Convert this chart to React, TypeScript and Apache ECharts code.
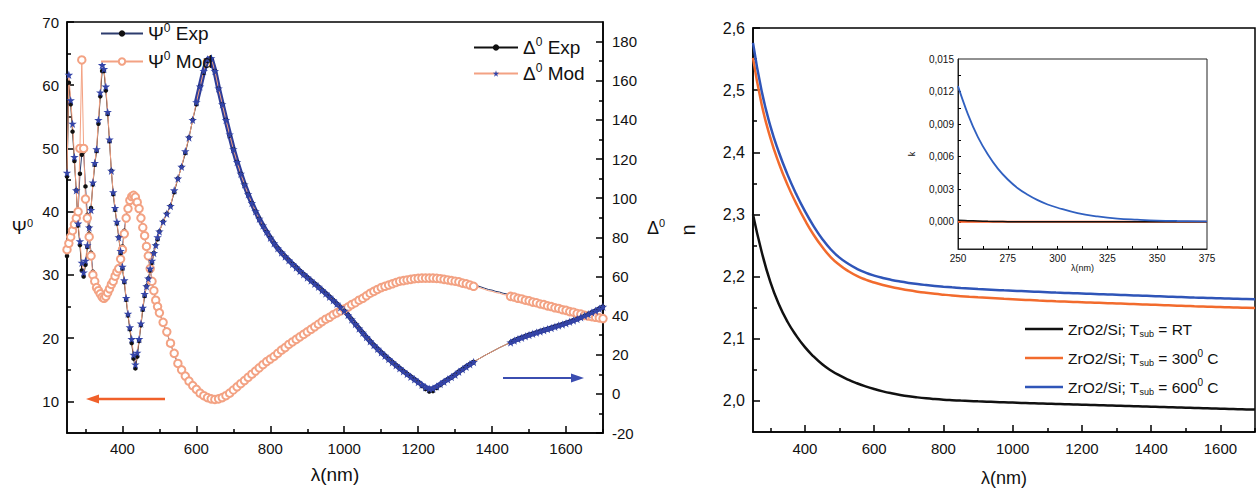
import React, { useEffect, useRef } from 'react';
import * as echarts from 'echarts';

const FONT = "'Liberation Sans', Arial, sans-serif";

// ---------- Left chart: ellipsometric angles ----------
const WL_UV = [250, 255, 260, 265, 270, 275, 280, 285, 290, 295,
  300, 305, 310, 315, 320, 325, 330, 335, 340, 345,
  350, 355, 360, 365, 370, 375, 380, 385, 390, 395,
  400, 405, 410, 415, 420, 425, 430, 435, 440, 445,
  450, 455, 460, 465, 470, 475, 480, 485, 490, 495, 500];
const WL_VIS = [510, 520, 530, 540, 550, 560, 570, 580, 590, 600,
  610, 620, 630, 640, 650, 660, 670, 680, 690, 700,
  710, 720, 730, 740, 750, 760, 770, 780, 790, 800,
  810, 820, 830, 840, 850, 860, 870, 880, 890, 900,
  910, 920, 930, 940, 950, 960, 970, 980, 990, 1000,
  1010, 1020, 1030, 1040, 1050, 1060, 1070, 1080, 1090, 1100,
  1110, 1120, 1130, 1140, 1150, 1160, 1170, 1180, 1190, 1200,
  1210, 1220, 1230, 1240, 1250, 1260, 1270, 1280, 1290, 1300,
  1310, 1320, 1330, 1340, 1350, 1360, 1370, 1380, 1390, 1400,
  1410, 1420, 1430, 1440, 1450, 1460, 1470, 1480, 1490, 1500,
  1510, 1520, 1530, 1540, 1550, 1560, 1570, 1580, 1590, 1600,
  1610, 1620, 1630, 1640, 1650, 1660, 1670, 1680, 1690, 1700];

const PSI_EXP_UV = [33, 34.5, 35.5, 36, 37, 38, 40, 46, 49, 49.5,
  44, 39.5, 36.5, 33.5, 30.5, 29.2, 28.2, 27.6, 27.2, 26.8,
  26.6, 26.9, 27.5, 28.2, 28.8, 29.4, 30, 30.6, 31.3, 32.8,
  34.5, 37, 39.3, 40.6, 41.4, 41.8, 41.9, 41.6, 41, 40.2,
  38.8, 37.4, 36, 34.4, 32.8, 30.9, 29, 27.4, 26, 25, 24];
const PSI_MOD_UV = [34, 35, 36, 37, 38, 39, 40, 50, 64, 50,
  42, 39, 36, 33, 30, 29, 28, 27.5, 27, 26.5,
  26.3, 26.6, 27.2, 27.8, 28.5, 29, 29.8, 30.5, 31, 32.5,
  34, 36.5, 39, 40.5, 41.8, 42.4, 42.6, 42.3, 41.5, 40.5,
  39, 37.5, 36.2, 34.5, 33, 31, 29, 27.5, 26, 25, 24];
const DELTA_EXP_UV = [111, 159, 148, 134, 119, 104, 86, 76, 63, 60,
  66, 75, 85, 95, 107, 117, 124, 138, 152, 165,
  165, 155, 143, 129, 114, 102, 94, 87, 80, 72,
  64, 57, 48, 40, 33, 26, 18, 13, 19, 27,
  35, 43, 50, 55, 59, 63, 67, 72, 76, 79, 83];
const DELTA_MOD_UV = [113, 163, 150, 138, 121, 104, 87, 78, 67, 62,
  68, 76, 85, 94, 108, 118, 125, 140, 154, 168,
  166, 157, 144, 130, 114, 103, 95, 88, 80, 73,
  65, 58, 49, 41, 34, 28, 20, 15, 21, 28,
  36, 44, 51, 55, 59, 64, 68, 72, 76, 80, 83];

const PSI_EXP_VIS = [22.4, 20.9, 19.1, 17.5, 15.9, 14.9, 13.9, 13.1, 12.4, 11.8,
  11.2, 10.8, 10.5, 10.3, 10.2, 10.3, 10.5, 10.8, 11.2, 11.7,
  12.2, 12.7, 13.2, 13.7, 14.2, 14.7, 15.2, 15.7, 16.2, 16.6,
  17.1, 17.6, 18.1, 18.5, 19, 19.4, 19.8, 20.2, 20.6, 21,
  21.4, 21.8, 22.2, 22.6, 23, 23.3, 23.7, 24, 24.3, 24.7,
  25, 25.4, 25.8, 26.2, 26.5, 26.9, 27.3, 27.6, 27.9, 28.2,
  28.4, 28.6, 28.8, 29, 29.2, 29.3, 29.4, 29.5, 29.6, 29.65,
  29.7, 29.7, 29.7, 29.7, 29.65, 29.6, 29.5, 29.4, 29.3, 29.2,
  29.1, 28.9, 28.8, 28.6, 28.4, 28.3, 28.1, 27.9, 27.7, 27.6,
  27.4, 27.3, 27.1, 27, 26.8, 26.6, 26.4, 26.3, 26.1, 26,
  25.8, 25.7, 25.5, 25.4, 25.2, 25.1, 24.9, 24.8, 24.6, 24.5,
  24.3, 24.2, 24, 23.9, 23.7, 23.6, 23.5, 23.4, 23.3, 23.2];
const PSI_MOD_VIS = [22.5, 21, 19.2, 17.6, 16, 15, 14, 13.2, 12.5, 11.9,
  11.3, 10.9, 10.6, 10.4, 10.3, 10.4, 10.6, 10.9, 11.3, 11.8,
  12.3, 12.8, 13.3, 13.8, 14.3, 14.8, 15.3, 15.8, 16.3, 16.7,
  17.1, 17.6, 18.1, 18.5, 19, 19.4, 19.8, 20.2, 20.6, 21,
  21.4, 21.8, 22.2, 22.6, 23, 23.3, 23.7, 24, 24.3, 24.6,
  24.9, 25.3, 25.6, 26, 26.3, 26.7, 27.1, 27.4, 27.7, 28,
  28.2, 28.4, 28.6, 28.8, 29, 29.1, 29.2, 29.3, 29.4, 29.45,
  29.5, 29.5, 29.5, 29.5, 29.45, 29.4, 29.3, 29.2, 29.1, 29,
  28.9, 28.7, 28.6, 28.4, 28.2, 28.1, 27.9, 27.7, 27.5, 27.4,
  27.2, 27.1, 26.9, 26.8, 26.6, 26.5, 26.3, 26.2, 26, 25.9,
  25.7, 25.6, 25.4, 25.3, 25.1, 25, 24.8, 24.7, 24.5, 24.4,
  24.2, 24.1, 23.9, 23.8, 23.6, 23.5, 23.4, 23.3, 23.2, 23.1];
const DELTA_EXP_VIS = [88, 92, 96, 103, 110, 116, 123, 131, 140, 148,
  157, 164, 170, 171, 165, 156, 148, 140, 132, 125,
  118.5, 112.5, 107, 102, 97.5, 93.3, 89.5, 86, 82.8, 79.8,
  77, 74.4, 72.2, 70.2, 68.3, 66.4, 64.6, 62.8, 61.1, 59.5,
  57.9, 56.3, 54.7, 53, 51.3, 49.6, 47.8, 46, 44.2, 42.5,
  40.3, 38, 35.7, 33.4, 31.2, 29, 26.9, 24.9, 23, 21.2,
  19.5, 17.8, 16.2, 14.6, 13.1, 11.6, 10.2, 8.8, 7.4, 6,
  4, 2.4, 1.2, 1.4, 3, 4.5, 6, 7.3, 8.5, 9.7,
  11.3, 12.6, 13.9, 15.1, 16.3, 17.4, 18.5, 19.6, 20.6, 21.6,
  22.6, 23.6, 24.5, 25.4, 26.3, 27.2, 28, 28.7, 29.4, 30.1,
  30.7, 31.3, 31.9, 32.5, 33.1, 33.7, 34.3, 34.9, 35.5, 36.1,
  36.8, 37.5, 38.3, 39.1, 39.9, 40.7, 41.6, 42.5, 43.5, 44.5];
const DELTA_MOD_VIS = [88, 92, 96, 104, 110, 116, 124, 131, 140, 149,
  157, 165, 171, 171.5, 165, 156, 148, 140, 132.5, 125,
  118.5, 112.5, 107, 102, 97.5, 93.3, 89.5, 86, 82.8, 79.8,
  77, 74.4, 72.2, 70.2, 68.3, 66.4, 64.6, 62.8, 61.1, 59.5,
  57.9, 56.3, 54.7, 53, 51.3, 49.6, 47.8, 46, 44.2, 42.5,
  40.3, 38, 35.7, 33.4, 31.2, 29, 26.9, 24.9, 23, 21.2,
  19.5, 17.8, 16.2, 14.6, 13.1, 11.6, 10.2, 8.8, 7.4, 6,
  4.6, 3.4, 2.6, 2.8, 3.8, 5, 6.2, 7.4, 8.6, 9.8,
  11.3, 12.6, 13.9, 15.1, 16.3, 17.4, 18.5, 19.6, 20.6, 21.6,
  22.6, 23.6, 24.5, 25.4, 26.3, 27.2, 28, 28.7, 29.4, 30.1,
  30.7, 31.3, 31.9, 32.5, 33.1, 33.7, 34.3, 34.9, 35.5, 36.1,
  36.8, 37.5, 38.3, 39.1, 39.9, 40.7, 41.6, 42.5, 43.5, 44.5];

// tick values
const X_MAJOR = [400, 600, 800, 1000, 1200, 1400, 1600];
const X_MINOR = [300, 500, 700, 900, 1100, 1300, 1500, 1700];
const PSI_MAJOR = [10, 20, 30, 40, 50, 60, 70];
const PSI_MINOR = [15, 25, 35, 45, 55, 65];
const DELTA_MAJOR = [-20, 0, 20, 40, 60, 80, 100, 120, 140, 160, 180];
const DELTA_MINOR = [-10, 10, 30, 50, 70, 90, 110, 130, 150, 170];

// ---------- Right chart: refractive index n ----------
const WL_N = [250, 275, 300, 325, 350, 375, 400, 425, 450, 475,
  500, 525, 550, 575, 600, 625, 650, 675, 700, 725,
  750, 775, 800, 825, 850, 875, 900, 925, 950, 975,
  1000, 1025, 1050, 1075, 1100, 1125, 1150, 1175, 1200, 1225,
  1250, 1275, 1300, 1325, 1350, 1375, 1400, 1425, 1450, 1475,
  1500, 1525, 1550, 1575, 1600, 1625, 1650, 1675, 1700];
const N_RT = [2.300, 2.240, 2.1915, 2.155, 2.127, 2.105, 2.0865, 2.0715, 2.059, 2.049,
  2.041, 2.0342, 2.0284, 2.0234, 2.0191, 2.0154, 2.0123, 2.0097, 2.0075, 2.0057,
  2.0042, 2.0030, 2.0020, 2.0012, 2.0005, 1.9999, 1.9993, 1.9988, 1.9983, 1.9978,
  1.9973, 1.9968, 1.9963, 1.9959, 1.9955, 1.9951, 1.9947, 1.9943, 1.9939, 1.9935,
  1.9931, 1.9927, 1.9923, 1.9919, 1.9915, 1.9911, 1.9907, 1.9903, 1.9899, 1.9895,
  1.9891, 1.9887, 1.9883, 1.9879, 1.9875, 1.9871, 1.9867, 1.9863, 1.9860];
const N_300 = [2.552, 2.4770, 2.4235, 2.3820, 2.3472, 2.3175, 2.2908, 2.2673, 2.2476, 2.2311,
  2.2186, 2.2089, 2.2011, 2.1952, 2.1906, 2.1866, 2.1832, 2.1804, 2.1779, 2.1758,
  2.1740, 2.1724, 2.1710, 2.1697, 2.1686, 2.1676, 2.1667, 2.1659, 2.1651, 2.1643,
  2.1636, 2.1629, 2.1622, 2.1615, 2.1609, 2.1603, 2.1598, 2.1593, 2.1588, 2.1583,
  2.1578, 2.1573, 2.1568, 2.1563, 2.1558, 2.1553, 2.1548, 2.1543, 2.1538, 2.1533,
  2.1528, 2.1523, 2.1519, 2.1515, 2.1511, 2.1507, 2.1503, 2.1499, 2.1495];
const N_600 = [2.576, 2.4985, 2.4425, 2.3997, 2.3637, 2.3327, 2.3053, 2.2813, 2.2606, 2.2436,
  2.2306, 2.2206, 2.2126, 2.2064, 2.2016, 2.1978, 2.1947, 2.1921, 2.1899, 2.1880,
  2.1864, 2.1850, 2.1838, 2.1827, 2.1817, 2.1808, 2.1800, 2.1793, 2.1786, 2.1779,
  2.1773, 2.1767, 2.1761, 2.1755, 2.1749, 2.1743, 2.1738, 2.1733, 2.1728, 2.1723,
  2.1718, 2.1713, 2.1708, 2.1703, 2.1698, 2.1693, 2.1688, 2.1683, 2.1678, 2.1673,
  2.1668, 2.1663, 2.1659, 2.1655, 2.1651, 2.1647, 2.1643, 2.1639, 2.1635];
const N_X_MAJOR = [400, 600, 800, 1000, 1200, 1400, 1600];
const N_X_MINOR = [300, 500, 700, 900, 1100, 1300, 1500, 1700];
const N_MAJOR = [2.0, 2.1, 2.2, 2.3, 2.4, 2.5, 2.6];
const N_MINOR = [2.05, 2.15, 2.25, 2.35, 2.45, 2.55];

// ---------- Inset: extinction coefficient k ----------
const WL_K = [250, 255, 260, 265, 270, 275, 280, 285, 290, 295, 300, 310, 320, 330, 340, 350, 360, 375];
const K_600 = [0.0125, 0.0099, 0.0078, 0.0062, 0.0049, 0.0039, 0.0031, 0.0025, 0.0020, 0.0016, 0.0013,
  0.0008, 0.0005, 0.0003, 0.0002, 0.00012, 0.00008, 0.00005];
const K_RT = [0.00015, 0.00011, 0.00008, 0.00005, 0.00003, 0.00002, 0.00001, 0, 0, 0, 0, 0, 0, 0, 0, 0, 0, 0];
const K_300 = [0, 0, 0, 0, 0, 0, 0, 0, 0, 0, 0, 0, 0, 0, 0, 0, 0, 0];
const K_X_LABELS = [250, 275, 300, 325, 350, 375];
const K_X_TICKS = [262.5, 275, 287.5, 300, 312.5, 325, 337.5, 350, 362.5];
const K_Y_LABELS = [0, 0.003, 0.006, 0.009, 0.012, 0.015];
const K_Y_TICKS = [-0.0015, 0, 0.0015, 0.003, 0.0045, 0.006, 0.0075, 0.009, 0.0105, 0.012, 0.0135];

const STAR = 'path://M50,0 L61,35 L98,35 L68,57 L79,91 L50,70 L21,91 L32,57 L2,35 L39,35 Z';
const SALMON = '#f3a283';
const NAVY = '#3444a8';

const WL = [...WL_UV, ...WL_VIS];
const inGap = (x: number) => x > 1350 && x < 1450;
const pts = (ys: number[]) =>
  WL.map((x, i) => (inGap(x) ? { value: [x, ys[i]], symbol: 'none' } : [x, ys[i]]));
const band = (ys: number[]) => WL.map((x, i) => (x >= 600 && !inGap(x) ? [x, ys[i]] : [x, '-']));
const zipN = (xs: number[], ys: number[]) => xs.map((x, i) => [x, ys[i]]);

const lineAxis = { show: true, onZero: false, lineStyle: { color: '#000', width: 1.5 } };
const noAxis = { show: false, onZero: false };
const tick = (vals: number[], len: number, w = 1.5) => ({
  show: true, inside: true, length: len, customValues: vals, lineStyle: { color: '#000', width: w },
});
const plain = (v: number) => String(v);
const lbl = (vals: number[], size: number, margin: number, fmt: (v: number) => string = plain) => ({
  show: true, customValues: vals, fontSize: size, margin, color: '#111', fontFamily: FONT, formatter: fmt,
});
const comma = (d: number) => (v: number) => v.toFixed(d).replace('.', ',');

const supRich = (size: number, lh: number, supPad = 10) => ({
  a: { fontSize: size, color: '#111', fontFamily: FONT, lineHeight: lh },
  s: { fontSize: Math.round(size * 0.62), color: '#111', fontFamily: FONT, padding: [0, 0, supPad, 0] },
  b: { fontSize: Math.round(size * 0.6), color: '#111', fontFamily: FONT, padding: [9, 0, 0, 0] },
});

const option: any = {
  animation: false,
  backgroundColor: '#fff',
  textStyle: { fontFamily: FONT },
  grid: [
    { left: 67, top: 22, width: 536, height: 411, show: true, borderColor: '#000', borderWidth: 1.5 },
    { left: 753, top: 28, width: 502, height: 407, show: true, borderColor: '#000', borderWidth: 1.5 },
    { left: 958, top: 59, width: 249, height: 190, show: true, borderColor: '#222', borderWidth: 1, backgroundColor: '#fff' },
  ],
  xAxis: [
    {
      type: 'value', gridIndex: 0, min: 250, max: 1700, position: 'bottom',
      axisLine: lineAxis, axisTick: tick(X_MAJOR, 7), axisLabel: lbl(X_MAJOR, 15, 8), splitLine: { show: false },
      name: 'λ(nm)', nameLocation: 'middle', nameGap: 32, nameTextStyle: { fontSize: 19, color: '#111', fontFamily: FONT },
    },
    {
      type: 'value', gridIndex: 0, min: 250, max: 1700, position: 'bottom',
      axisLine: noAxis, axisTick: tick(X_MINOR, 4), axisLabel: { show: false }, splitLine: { show: false },
    },
    {
      type: 'value', gridIndex: 1, min: 250, max: 1700, position: 'bottom',
      axisLine: lineAxis, axisTick: tick(N_X_MAJOR, 7), axisLabel: lbl(N_X_MAJOR, 15, 9), splitLine: { show: false },
      name: 'λ(nm)', nameLocation: 'middle', nameGap: 37, nameTextStyle: { fontSize: 18, color: '#111', fontFamily: FONT },
    },
    {
      type: 'value', gridIndex: 1, min: 250, max: 1700, position: 'bottom',
      axisLine: noAxis, axisTick: tick(N_X_MINOR, 4), axisLabel: { show: false }, splitLine: { show: false },
    },
    {
      type: 'value', gridIndex: 2, min: 250, max: 375, position: 'bottom',
      axisLine: { show: true, onZero: false, lineStyle: { color: '#222', width: 1 } },
      axisTick: tick(K_X_TICKS, 3, 1), axisLabel: lbl(K_X_LABELS, 10, 4), splitLine: { show: false },
      name: 'λ(nm)', nameLocation: 'middle', nameGap: 14, nameTextStyle: { fontSize: 9, color: '#111', fontFamily: FONT },
    },
  ],
  yAxis: [
    {
      type: 'value', gridIndex: 0, min: 5, max: 70, position: 'left',
      axisLine: lineAxis, axisTick: tick(PSI_MAJOR, 7), axisLabel: lbl(PSI_MAJOR, 15, 8), splitLine: { show: false },
      name: '{a|Ψ}{s|0}', nameLocation: 'middle', nameRotate: 0, nameGap: 34,
      nameTextStyle: { rich: supRich(18, 22) },
    },
    {
      type: 'value', gridIndex: 0, min: 5, max: 70, position: 'left',
      axisLine: noAxis, axisTick: tick(PSI_MINOR, 4), axisLabel: { show: false }, splitLine: { show: false },
    },
    {
      type: 'value', gridIndex: 0, min: -20, max: 190, position: 'right',
      axisLine: lineAxis, axisTick: tick(DELTA_MAJOR, 7), axisLabel: lbl(DELTA_MAJOR, 15, 9), splitLine: { show: false },
      name: '{a|Δ}{s|0}', nameLocation: 'middle', nameRotate: 0, nameGap: 44,
      nameTextStyle: { rich: supRich(18, 22) },
    },
    {
      type: 'value', gridIndex: 0, min: -20, max: 190, position: 'right',
      axisLine: noAxis, axisTick: tick(DELTA_MINOR, 4), axisLabel: { show: false }, splitLine: { show: false },
    },
    {
      type: 'value', gridIndex: 1, min: 1.95, max: 2.6, position: 'left',
      axisLine: lineAxis, axisTick: tick(N_MAJOR, 7), axisLabel: lbl(N_MAJOR, 16, 8, comma(1)), splitLine: { show: false },
      name: 'n', nameLocation: 'middle', nameRotate: 90, nameGap: 55,
      nameTextStyle: { fontSize: 20, color: '#111', fontFamily: FONT },
    },
    {
      type: 'value', gridIndex: 1, min: 1.95, max: 2.6, position: 'left',
      axisLine: noAxis, axisTick: tick(N_MINOR, 4), axisLabel: { show: false }, splitLine: { show: false },
    },
    {
      type: 'value', gridIndex: 2, min: -0.0025, max: 0.015, position: 'left',
      axisLine: { show: true, onZero: false, lineStyle: { color: '#222', width: 1 } },
      axisTick: tick(K_Y_TICKS, 3, 1), axisLabel: lbl(K_Y_LABELS, 10, 4, comma(3)), splitLine: { show: false },
      name: 'k', nameLocation: 'middle', nameRotate: 90, nameGap: 42,
      nameTextStyle: { fontSize: 9, color: '#111', fontFamily: FONT },
    },
  ],
  legend: [
    {
      data: ['Ψ0 Exp', 'Ψ0 Mod'], orient: 'vertical', left: 95, top: 17, itemWidth: 42, itemHeight: 8, itemGap: 7,
      selectedMode: false,
      formatter: (n: string) => (n === 'Ψ0 Exp' ? '{a|Ψ}{s|0}{a| Exp}' : '{a|Ψ}{s|0}{a| Mod}'),
      textStyle: { rich: supRich(19, 22, 11) },
    },
    {
      data: ['Δ0 Exp', 'Δ0 Mod'], orient: 'vertical', left: 468, top: 31, itemWidth: 44, itemHeight: 8, itemGap: 5,
      selectedMode: false,
      formatter: (n: string) => (n === 'Δ0 Exp' ? '{a|Δ}{s|0}{a| Exp}' : '{a|Δ}{s|0}{a| Mod}'),
      textStyle: { rich: supRich(19, 22, 11) },
    },
    {
      data: [{ name: 'RT', icon: 'rect' }, { name: '300', icon: 'rect' }, { name: '600', icon: 'rect' }],
      orient: 'vertical', left: 1020, top: 316, itemWidth: 38, itemHeight: 2.5, itemGap: 10,
      selectedMode: false,
      formatter: (n: string) =>
        n === 'RT' ? '{a|ZrO2/Si; T}{b|sub}{a| = RT}' : `{a|ZrO2/Si; T}{b|sub}{a| = ${n}}{s|0}{a| C}`,
      textStyle: { rich: supRich(15.5, 22) },
    },
  ],
  series: [
    {
      name: 'Ψ0 Exp', type: 'line', xAxisIndex: 0, yAxisIndex: 0, data: pts([...PSI_EXP_UV, ...PSI_EXP_VIS]),
      symbol: 'circle', symbolSize: 4.5, showAllSymbol: true, itemStyle: { color: '#111' },
      lineStyle: { color: '#2d3c6e', width: 1 },
    },
    {
      name: 'Ψ0 Mod', type: 'line', xAxisIndex: 0, yAxisIndex: 0, data: pts([...PSI_MOD_UV, ...PSI_MOD_VIS]),
      symbol: 'emptyCircle', symbolSize: 7.5, showAllSymbol: true,
      itemStyle: { color: SALMON, borderColor: SALMON, borderWidth: 1 },
      lineStyle: { color: SALMON, width: 1 },
    },
    {
      name: 'Δ0 Exp', type: 'line', xAxisIndex: 0, yAxisIndex: 2, data: pts([...DELTA_EXP_UV, ...DELTA_EXP_VIS]),
      symbol: 'circle', symbolSize: 4.5, showAllSymbol: true, itemStyle: { color: '#111' },
      lineStyle: { color: '#111', width: 1 },
    },
    {
      name: 'Δ0 band', type: 'line', xAxisIndex: 0, yAxisIndex: 2, data: band([...DELTA_MOD_UV, ...DELTA_MOD_VIS]),
      symbol: 'none', connectNulls: false, lineStyle: { color: '#2e3d99', width: 5 }, silent: true,
    },
    {
      name: 'Δ0 Mod', type: 'line', xAxisIndex: 0, yAxisIndex: 2, data: pts([...DELTA_MOD_UV, ...DELTA_MOD_VIS]),
      symbol: STAR, symbolSize: 8.5, showAllSymbol: true, itemStyle: { color: NAVY },
      lineStyle: { color: SALMON, width: 1 },
    },
    {
      name: 'RT', type: 'line', xAxisIndex: 2, yAxisIndex: 4, data: zipN(WL_N, N_RT), symbol: 'none',
      smooth: 0.5, lineStyle: { color: '#111', width: 2.5 }, itemStyle: { color: '#111' },
    },
    {
      name: '300', type: 'line', xAxisIndex: 2, yAxisIndex: 4, data: zipN(WL_N, N_300), symbol: 'none',
      smooth: 0.5, lineStyle: { color: '#f26b2d', width: 2.5 }, itemStyle: { color: '#f26b2d' },
    },
    {
      name: '600', type: 'line', xAxisIndex: 2, yAxisIndex: 4, data: zipN(WL_N, N_600), symbol: 'none',
      smooth: 0.5, lineStyle: { color: '#2f55b8', width: 2.5 }, itemStyle: { color: '#2f55b8' },
    },
    {
      name: 'k300', type: 'line', xAxisIndex: 4, yAxisIndex: 6, data: zipN(WL_K, K_300), symbol: 'none',
      lineStyle: { color: '#ff5a1f', width: 2 },
    },
    {
      name: 'kRT', type: 'line', xAxisIndex: 4, yAxisIndex: 6, data: zipN(WL_K, K_RT), symbol: 'none',
      smooth: 0.4, lineStyle: { color: '#111', width: 1.5 },
    },
    {
      name: 'k600', type: 'line', xAxisIndex: 4, yAxisIndex: 6, data: zipN(WL_K, K_600), symbol: 'none',
      smooth: 0.4, lineStyle: { color: '#3060c0', width: 1.8 },
    },
  ],
  graphic: [
    { type: 'line', shape: { x1: 165, y1: 399, x2: 96, y2: 399 }, style: { stroke: '#f0602a', lineWidth: 2.5 } },
    { type: 'polygon', shape: { points: [[86, 399], [99, 394.5], [99, 403.5]] }, style: { fill: '#f0602a' } },
    { type: 'line', shape: { x1: 503, y1: 378, x2: 574, y2: 378 }, style: { stroke: '#3b4db0', lineWidth: 2 } },
    { type: 'polygon', shape: { points: [[584, 378], [571, 373.5], [571, 382.5]] }, style: { fill: '#3b4db0' } },
  ],
};

export default function App() {
  const ref = useRef<HTMLDivElement>(null);
  useEffect(() => {
    const chart = echarts.init(ref.current as HTMLDivElement, null, { renderer: 'svg' });
    chart.setOption(option);
    return () => chart.dispose();
  }, []);
  return (
    <div
      ref={ref}
      style={{ position: 'absolute', left: 0, top: 0, width: 1257, height: 492, background: '#fff' }}
    />
  );
}
